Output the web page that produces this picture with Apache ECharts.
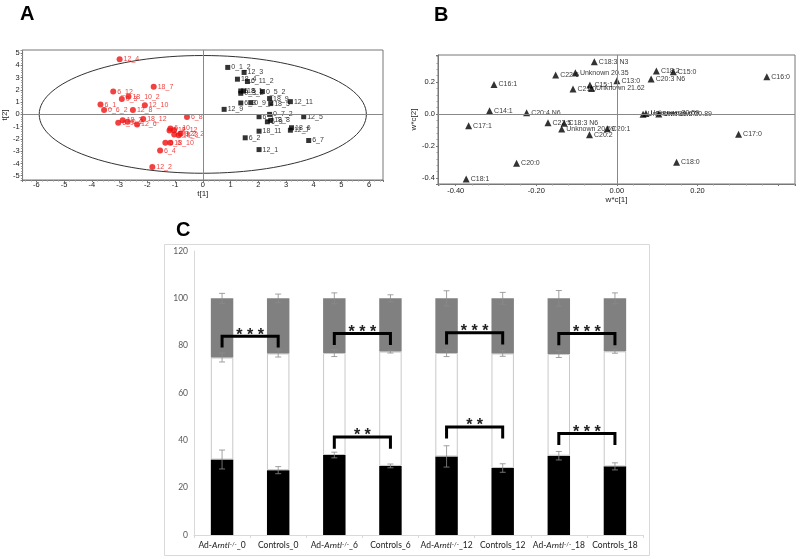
<!DOCTYPE html>
<html>
<head>
<meta charset="utf-8">
<title>Score plot, loading plot and fatty acid bars</title>
<script src="https://cdn.jsdelivr.net/npm/echarts@6.0.0/dist/echarts.min.js"></script>
<style>
html, body { margin: 0; padding: 0; background: #fff; }
#main { width: 800px; height: 559px; }
</style>
</head>
<body>
<div id="main"></div>
<script>
// A - score plot t[1] / t[2]
var redNames = ['12_4', '18_7', '6_12', '0_3', '18_10_2', '12_10', '6_1', '0_6_2', '12_8', '6_8',
    '18_12', '18_2', '6_9', '0_2', '12_6', '6_10', '0_4', '12_12', '0_12', '18_3', '0_2_2',
    '18_10', '6_6', '6_4', '12_2'];
var redX = [-3.0, -1.77, -3.23, -2.92, -2.68, -2.09, -3.69, -3.56, -2.52, -0.57,
    -2.15, -2.89, -3.05, -2.71, -2.37, -1.17, -1.20, -1.04, -1.03, -0.87, -0.80,
    -1.17, -1.35, -1.54, -1.82];
var redY = [4.5, 2.25, 1.86, 1.25, 1.45, 0.74, 0.8, 0.35, 0.35, -0.22,
    -0.38, -0.47, -0.68, -0.6, -0.82, -1.15, -1.31, -1.29, -1.64, -1.70, -1.58,
    -2.32, -2.32, -2.95, -4.3];

var blackNames = ['0_1_2', '12_3', '18_4', '6_11_2', '6_5', '0_3_2', '18_1', '0_5_2', '18_9', '6_3',
    '0_9_2', '18_5', '12_11', '12_9', '6_1', '0_7_2', '12_5', '18_8', '6_9', '18_11',
    '18_6', '12_7', '6_2', '6_7', '12_1'];
var blackX = [0.90, 1.49, 1.25, 1.61, 1.37, 1.37, 1.47, 2.15, 2.41, 1.37,
    1.73, 2.45, 3.16, 0.77, 2.03, 2.41, 3.64, 2.45, 2.33, 2.03,
    3.20, 3.16, 1.53, 3.82, 2.03];
var blackY = [3.83, 3.42, 2.87, 2.68, 1.91, 1.72, 1.91, 1.86, 1.29, 0.93,
    0.96, 0.88, 1.04, 0.41, -0.19, 0.0, -0.19, -0.49, -0.6, -1.37,
    -1.09, -1.29, -1.91, -2.13, -2.87];

var ellipseRadii = [5.9, 4.8];

// B - loadings w*c[1] / w*c[2]
var loadNames = ['C18:3 N3', 'Unknown 20.35', 'C22:6', 'C16:1', 'C15:1', 'C21:0', 'Unknown 21.62',
    'C13:0', 'C18:2', 'C15:0', 'C20:3 N6', 'C16:0', 'C14:1', 'C20:4 N6', 'Unknown 30.07',
    'Unknown 30.59', 'Unknown 30.89', 'C22:5', 'C18:3 N6', 'Unknown 20.59', 'C20:1', 'C20:2',
    'C17:1', 'C17:0', 'C20:0', 'C18:0', 'C18:1'];
var loadX = [-0.056, -0.103, -0.152, -0.305, -0.067, -0.109, -0.063,
    0.0, 0.098, 0.140, 0.085, 0.372, -0.316, -0.224, 0.065,
    0.072, 0.104, -0.171, -0.131, -0.137, -0.024, -0.068,
    -0.368, 0.302, -0.249, 0.148, -0.374];
var loadY = [0.327, 0.258, 0.244, 0.185, 0.181, 0.156, 0.160,
    0.208, 0.269, 0.265, 0.219, 0.233, 0.021, 0.008, -0.002,
    0.004, 0.0, -0.054, -0.058, -0.094, -0.092, -0.129,
    -0.073, -0.127, -0.308, -0.302, -0.406];
var bTickX = ['-0.40', '-0.20', '0.00', '0.20'];
var bTickY = ['0.2', '0.0', '-0.2', '-0.4'];

// C - stacked percentages with error bars
var cCategories = ['Ad-Arntl-/-_0', 'Controls_0', 'Ad-Arntl-/-_6', 'Controls_6',
    'Ad-Arntl-/-_12', 'Controls_12', 'Ad-Arntl-/-_18', 'Controls_18'];
var blackPart = [31.9, 27.4, 33.8, 29.2, 33.2, 28.3, 33.5, 29.0];
var whiteTop = [75.0, 76.7, 76.9, 77.5, 76.9, 76.7, 76.5, 77.6];
var grayTop = [100, 100, 100, 100, 100, 100, 100, 100];
var blackErr = [4.0, 1.5, 1.2, 0.8, 4.5, 1.8, 1.8, 1.5];
var whiteErr = [1.9, 1.5, 1.5, 0.6, 1.5, 1.2, 1.5, 0.8];
var grayErr = [2.1, 1.8, 2.3, 1.5, 3.2, 2.5, 3.3, 2.3];

var bracketFrom = [0, 2, 4, 6, 2, 4, 6];
var bracketTo = [1, 3, 5, 7, 3, 5, 7];
var bracketLevel = [84.0, 85.1, 85.5, 85.1, 41.4, 45.6, 42.9];
var bracketDrop = [79.2, 80.3, 80.5, 80.2, 36.4, 40.8, 38.0];
var bracketStars = ['* * *', '* * *', '* * *', '* * *', '* *', '* *', '* * *'];

var chart = echarts.init(document.getElementById('main'));

function points(names, xs, ys) {
    return names.map(function (n, i) { return { name: n, value: [xs[i], ys[i]] }; });
}

var whitePart = whiteTop.map(function (v, i) { return +(v - blackPart[i]).toFixed(2); });
var grayPart = grayTop.map(function (v, i) { return +(v - whiteTop[i]).toFixed(2); });

var errData = [];
for (var i = 0; i < cCategories.length; i++) {
    errData.push([i, blackPart[i], blackErr[i]]);
    errData.push([i, whiteTop[i], whiteErr[i]]);
    errData.push([i, grayTop[i], grayErr[i]]);
}
var bracketData = bracketFrom.map(function (f, i) {
    return [f, bracketTo[i], bracketLevel[i], bracketDrop[i]];
});

var arial = 'Liberation Sans, Arial, sans-serif';
var calibri = 'Lato, Open Sans, sans-serif';

function frameAxis(extra) {
    var base = {
        type: 'value',
        axisLine: { show: true, onZero: false, lineStyle: { color: '#777', width: 1 } },
        axisTick: { show: true, length: 2, lineStyle: { color: '#777' } },
        minorTick: { show: true, splitNumber: 5, length: 1.5, lineStyle: { color: '#999' } },
        splitLine: { show: false },
        axisLabel: { fontSize: 7.5, color: '#222', fontFamily: arial, margin: 3 },
        nameLocation: 'middle',
        nameTextStyle: { fontSize: 8, color: '#222', fontFamily: arial }
    };
    for (var k in extra) {
        if (typeof extra[k] === 'object' && base[k] && !Array.isArray(extra[k])) {
            base[k] = Object.assign({}, base[k], extra[k]);
        } else {
            base[k] = extra[k];
        }
    }
    return base;
}

var zeroLines = {
    silent: true,
    symbol: 'none',
    label: { show: false },
    lineStyle: { color: '#888', type: 'solid', width: 1 },
    data: [{ xAxis: 0 }, { yAxis: 0 }]
};

function cLabel(v) {
    var m = v.match(/^Ad-Arntl-\/-_(\d+)$/);
    if (m) return '{n|Ad-}{i|Arntl}{s|-/-}{n|_' + m[1] + '}';
    return '{n|' + v + '}';
}

var option = {
    animation: false,
    backgroundColor: '#fff',
    grid: [
        { left: 20, top: 50, width: 363, height: 130, show: true, borderColor: '#777', borderWidth: 1 },
        { left: 438, top: 55, width: 357, height: 129, show: true, borderColor: '#777', borderWidth: 1 },
        { left: 194, top: 251, width: 449, height: 284 }
    ],
    xAxis: [
        frameAxis({ gridIndex: 0, min: -6.5, max: 6.5, minInterval: 1, maxInterval: 1,
            name: 't[1]', nameGap: 9,
            axisLabel: { showMinLabel: false, showMaxLabel: false, margin: 1 } }),
        frameAxis({ gridIndex: 1, min: -0.444, max: 0.442, minInterval: 0.2, maxInterval: 0.2,
            name: 'w*c[1]', nameGap: 12,
            axisLabel: { formatter: function (v) {
                var s = v.toFixed(2);
                if (s === '-0.00') s = '0.00';
                return bTickX.indexOf(s) >= 0 ? s : '';
            } } }),
        {
            gridIndex: 2, type: 'category', data: cCategories, boundaryGap: true,
            axisLine: { show: true, lineStyle: { color: '#d9d9d9' } },
            axisTick: { show: true, length: 3, lineStyle: { color: '#d9d9d9' } },
            axisLabel: {
                interval: 0, margin: 6, formatter: cLabel,
                rich: {
                    n: { fontSize: 8.5, color: '#1a1a1a', fontFamily: calibri },
                    i: { fontSize: 8.5, color: '#1a1a1a', fontFamily: calibri, fontStyle: 'italic' },
                    s: { fontSize: 6, color: '#1a1a1a', fontFamily: calibri, verticalAlign: 'top' }
                }
            }
        }
    ],
    yAxis: [
        frameAxis({ gridIndex: 0, min: -5.35, max: 5.25, minInterval: 1, maxInterval: 1,
            name: 't[2]', nameGap: 12,
            axisLabel: { showMinLabel: false, showMaxLabel: false } }),
        frameAxis({ gridIndex: 1, min: -0.4375, max: 0.369, minInterval: 0.2, maxInterval: 0.2,
            name: 'w*c[2]', nameGap: 14,
            axisLabel: { formatter: function (v) {
                var s = v.toFixed(1);
                if (s === '-0.0') s = '0.0';
                return bTickY.indexOf(s) >= 0 ? s : '';
            } } }),
        {
            gridIndex: 2, type: 'value', min: 0, max: 120, interval: 20,
            axisLine: { show: true, lineStyle: { color: '#d9d9d9' } },
            axisTick: { show: false },
            splitLine: { show: false },
            axisLabel: { fontSize: 8.5, color: '#595959', fontFamily: calibri, margin: 6 }
        }
    ],
    graphic: [
        { type: 'text', left: 20, top: 4, style: { text: 'A', font: 'bold 20px ' + arial, fill: '#000' } },
        { type: 'text', left: 434, top: 5, style: { text: 'B', font: 'bold 20px ' + arial, fill: '#000' } },
        { type: 'text', left: 176, top: 220, style: { text: 'C', font: 'bold 20px ' + arial, fill: '#000' } },
        { type: 'rect', left: 162, top: 242, shape: { width: 485, height: 311 },
          style: { fill: 'none', stroke: '#d9d9d9', lineWidth: 1 }, silent: true }
    ],
    series: [
        {
            type: 'custom', xAxisIndex: 0, yAxisIndex: 0, data: [[0, 0]], silent: true, z: 1,
            renderItem: function (params, api) {
                var c = api.coord([0, 0]);
                var s = api.size([ellipseRadii[0], ellipseRadii[1]]);
                return {
                    type: 'ellipse',
                    shape: { cx: c[0], cy: c[1], rx: s[0], ry: s[1] },
                    style: { fill: 'none', stroke: '#333', lineWidth: 1 }
                };
            }
        },
        {
            type: 'scatter', xAxisIndex: 0, yAxisIndex: 0, data: points(redNames, redX, redY),
            symbol: 'circle', symbolSize: 6, itemStyle: { color: '#ee1111' }, z: 3,
            label: { show: true, position: 'right', distance: 1, formatter: '{b}',
                fontSize: 7, color: '#ee1111', fontFamily: arial },
            markLine: zeroLines
        },
        {
            type: 'scatter', xAxisIndex: 0, yAxisIndex: 0, data: points(blackNames, blackX, blackY),
            symbol: 'rect', symbolSize: 5, itemStyle: { color: '#000' }, z: 3,
            label: { show: true, position: 'right', distance: 1, formatter: '{b}',
                fontSize: 7, color: '#000', fontFamily: arial }
        },
        {
            type: 'scatter', xAxisIndex: 1, yAxisIndex: 1, data: points(loadNames, loadX, loadY),
            symbol: 'triangle', symbolSize: 7, itemStyle: { color: '#000' }, z: 3,
            label: { show: true, position: 'right', distance: 1, formatter: '{b}',
                fontSize: 7, color: '#000', fontFamily: arial },
            markLine: zeroLines
        },
        {
            type: 'bar', xAxisIndex: 2, yAxisIndex: 2, stack: 'c', data: blackPart, barWidth: '40%',
            itemStyle: { color: '#000' }
        },
        {
            type: 'bar', xAxisIndex: 2, yAxisIndex: 2, stack: 'c', data: whitePart, barWidth: '40%',
            itemStyle: { color: '#fff', borderColor: '#c8c8c8', borderWidth: 1 }
        },
        {
            type: 'bar', xAxisIndex: 2, yAxisIndex: 2, stack: 'c', data: grayPart, barWidth: '40%',
            itemStyle: { color: '#808080' }
        },
        {
            type: 'custom', xAxisIndex: 2, yAxisIndex: 2, data: errData, z: 5, silent: true,
            renderItem: function (params, api) {
                var x = api.value(0), y = api.value(1), e = api.value(2);
                var hi = api.coord([x, y + e]), lo = api.coord([x, y - e]);
                var w = 3, st = { stroke: '#8a8a8a', lineWidth: 0.8 };
                return { type: 'group', children: [
                    { type: 'line', shape: { x1: hi[0], y1: hi[1], x2: lo[0], y2: lo[1] }, style: st },
                    { type: 'line', shape: { x1: hi[0] - w, y1: hi[1], x2: hi[0] + w, y2: hi[1] }, style: st },
                    { type: 'line', shape: { x1: lo[0] - w, y1: lo[1], x2: lo[0] + w, y2: lo[1] }, style: st }
                ] };
            }
        },
        {
            type: 'custom', xAxisIndex: 2, yAxisIndex: 2, data: bracketData, z: 6, silent: true,
            renderItem: function (params, api) {
                var a = api.coord([api.value(0), api.value(2)]);
                var b = api.coord([api.value(1), api.value(2)]);
                var d = api.coord([api.value(0), api.value(3)]);
                return { type: 'group', children: [
                    { type: 'polyline',
                      shape: { points: [[a[0], d[1]], [a[0], a[1]], [b[0], b[1]], [b[0], d[1]]] },
                      style: { stroke: '#000', lineWidth: 3, fill: 'none' } },
                    { type: 'text', x: (a[0] + b[0]) / 2, y: a[1] - 1,
                      style: { text: bracketStars[params.dataIndex], font: 'bold 16px ' + arial,
                          fill: '#222', align: 'center', verticalAlign: 'middle' } }
                ] };
            }
        }
    ]
};
chart.setOption(option);
</script>
</body>
</html>
